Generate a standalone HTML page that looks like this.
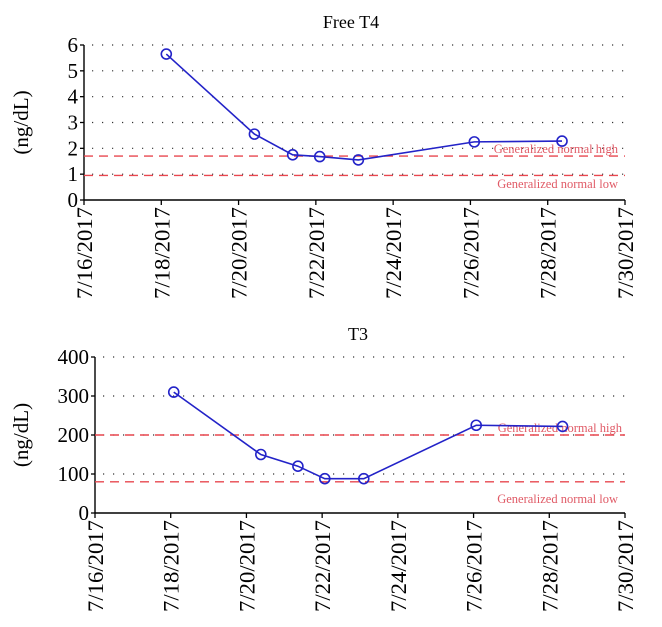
<!DOCTYPE html>
<html><head><meta charset="utf-8"><style>
html,body{margin:0;padding:0;background:#fff;}
svg{display:block;font-family:"Liberation Serif",serif;}
</style></head><body>
<svg id="c" width="662" height="627" viewBox="0 0 662 627"></svg>
<script>
const dateTicks = ["7/16/2017","7/18/2017","7/20/2017","7/22/2017","7/24/2017","7/26/2017","7/28/2017","7/30/2017"];
const t4Days = [18.13, 20.41, 21.4, 22.1, 23.1, 26.1, 28.37];
const t4Values = [5.65, 2.55, 1.75, 1.68, 1.55, 2.25, 2.28];
const t4YTicks = [0,1,2,3,4,5,6];
const t4Normal = [1.7, 0.95];
const t3Days = [18.08, 20.38, 21.36, 22.07, 23.1, 26.07, 28.35];
const t3Values = [310, 150, 120, 88, 88, 225, 222];
const t3YTicks = [0,100,200,300,400];
const t3Normal = [200, 80];

const NS="http://www.w3.org/2000/svg";
const svg=document.getElementById('c');
function mk(tag,attrs,parent,text){const e=document.createElementNS(NS,tag);for(const k in attrs)e.setAttribute(k,attrs[k]);if(text!==undefined)e.textContent=text;(parent||svg).appendChild(e);return e;}

function chart(cfg){
  const g=mk('g',{});
  
  
  const {L,R,T,B,yMax}=cfg;
  const xs=d=>L+(d-16)/14*(R-L);
  const ys=v=>B-v/yMax*(B-T);
  const title=mk('text',{x:cfg.titleX,y:cfg.titleY,'text-anchor':'middle','font-size':18},g,cfg.title);
  
  
  const yl=mk('text',{x:0,y:0,transform:`translate(${cfg.ylX},${(T+B)/2}) rotate(-90)`,'text-anchor':'middle','font-size':21},g,'(ng/dL)');
  
  
  cfg.yTicks.forEach(v=>{
    const y=ys(v);
    if(v>0){const gl=mk('line',{x1:L+8,x2:R,y1:y,y2:y,stroke:'#333','stroke-width':1.2,'stroke-dasharray':'1.2 8.8'},g);
      
      }
    mk('line',{x1:L-4,x2:L,y1:y,y2:y,stroke:'#000','stroke-width':1.3},g);
    const t=mk('text',{x:L-6,y:y+7,'text-anchor':'end','font-size':21},g,String(v));
    
    
  });
  mk('line',{x1:L,x2:L,y1:T,y2:B,stroke:'#000','stroke-width':1.4},g);
  mk('line',{x1:L,x2:R,y1:B,y2:B,stroke:'#000','stroke-width':1.4},g);
  dateTicks.forEach((s,i)=>{
    const x=xs(16+2*i);
    mk('line',{x1:x,x2:x,y1:B,y2:B+5,stroke:'#000','stroke-width':1.3},g);
    const t=mk('text',{x:0,y:0,transform:`translate(${x+8},${B+7}) rotate(-90)`,'text-anchor':'end','font-size':22,textLength:92,lengthAdjust:'spacingAndGlyphs'},g,s);
    
    
  });
  cfg.normal.forEach((v,i)=>{
    const y=ys(v);
    const l=mk('line',{x1:L,x2:R,y1:y,y2:y,stroke:'#e8474f','stroke-width':1.4,'stroke-dasharray':'9 6'},g);
    
    
  });
  const th=mk('text',{x:cfg.hiX,y:cfg.hiY,'font-size':12.5,fill:'#e05a66','text-anchor':'end'},g,'Generalized normal high');
  
  
  const tl=mk('text',{x:cfg.loX,y:cfg.loY,'font-size':12.5,fill:'#e05a66','text-anchor':'end'},g,'Generalized normal low');
  
  
  const pts=cfg.days.map((d,i)=>xs(d)+','+ys(cfg.vals[i])).join(' ');
  const pl=mk('polyline',{points:pts,fill:'none',stroke:'#2323c8','stroke-width':1.6},g);
  
  
  cfg.days.forEach((d,i)=>{
    const c=mk('circle',{cx:xs(d),cy:ys(cfg.vals[i]),r:5,fill:'none',stroke:'#2323c8','stroke-width':1.6},g);
    
    
  });
}
chart({name:'free-t4-chart',title:'Free T4',titleX:351,titleY:28,ylX:28,L:84,R:625,T:45,B:200,yMax:6,yTicks:t4YTicks,normal:t4Normal,days:t4Days,vals:t4Values,hiX:618,hiY:153,loX:618,loY:188});
chart({name:'t3-chart',title:'T3',titleX:358,titleY:340,ylX:28,L:95,R:625,T:357,B:513,yMax:400,yTicks:t3YTicks,normal:t3Normal,days:t3Days,vals:t3Values,hiX:622,hiY:432,loX:618,loY:503});
</script>
</body></html>
